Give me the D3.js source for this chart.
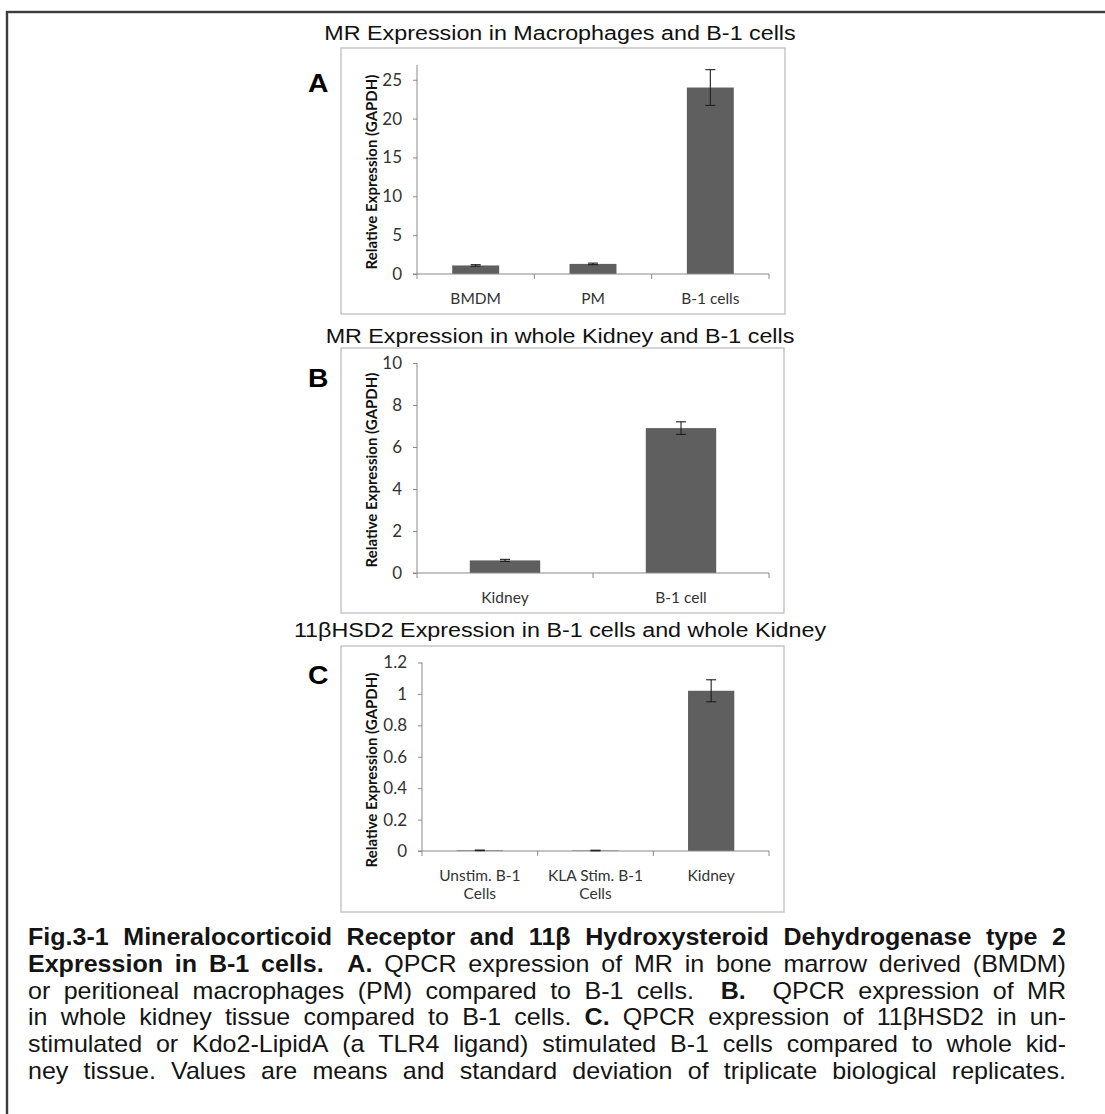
<!DOCTYPE html>
<html>
<head>
<meta charset="utf-8">
<script src="https://cdn.jsdelivr.net/npm/d3@7"></script>
<style>
  html, body { margin: 0; padding: 0; background: #fff; }
  svg { display: block; }
</style>
</head>
<body>
<svg id="fig" width="1105" height="1114"></svg>
<script>
// ---- Panel A: MR in macrophages vs B-1 cells ----
const catsA = ["BMDM", "PM", "B-1 cells"];
const meanA = [1.1, 1.3, 24.0];
const sdA = [0.1, 0.1, 2.3];
const ticksA = [0, 5, 10, 15, 20, 25];

// ---- Panel B: MR in kidney vs B-1 cells ----
const catsB = ["Kidney", "B-1 cell"];
const meanB = [0.6, 6.9];
const sdB = [0.05, 0.3];
const ticksB = [0, 2, 4, 6, 8, 10];

// ---- Panel C: 11βHSD2 in B-1 cells vs kidney ----
const catsC = ["Unstim. B-1\nCells", "KLA Stim. B-1\nCells", "Kidney"];
const meanC = [0.004, 0.003, 1.02];
const sdC = [0.002, 0.002, 0.07];
const ticksC = [0, 0.2, 0.4, 0.6, 0.8, 1, 1.2];

const titles = [
  "MR Expression in Macrophages and B-1 cells",
  "MR Expression in whole Kidney and B-1 cells",
  "11\u03b2HSD2 Expression in B-1 cells and whole Kidney"
];
const yAxisTitle = "Relative Expression (GAPDH)";

// Caption lines, as runs of [text, bold]
const captionLines = [
  [["Fig.3-1 Mineralocorticoid Receptor and 11\u03b2 Hydroxysteroid Dehydrogenase type 2", true]],
  [["Expression in B-1 cells.", true], ["  ", false], ["A.", true], [" QPCR expression of MR in bone marrow derived (BMDM)", false]],
  [["or peritioneal macrophages (PM) compared to B-1 cells.  ", false], ["B.", true], ["  QPCR expression of MR", false]],
  [["in whole kidney tissue compared to B-1 cells. ", false], ["C.", true], [" QPCR expression of 11\u03b2HSD2 in un-", false]],
  [["stimulated or Kdo2-LipidA (a TLR4 ligand) stimulated B-1 cells compared to whole kid-", false]],
  [["ney tissue. Values are means and standard deviation of triplicate biological replicates.", false]]
];

// ---- layout ----
const chartFont = "Lato, 'Open Sans', sans-serif";
const capFont = "'Liberation Sans', Arial, sans-serif";
const barFill = "#5f5f5f";
const axisColor = "#8a8a8a";
const wide = 1.11;   // the figure's type is set slightly extended

const panels = [
  { letter: "A", title: titles[0], cats: catsA, mean: meanA, sd: sdA, ticks: ticksA, ymax: 26.9,
    box: [341, 48, 785, 314], x0: 417, x1: 769, yBase: 274, yTop: 65,
    titleY: 40, letterY: 91.5, yTitleMid: 172 },
  { letter: "B", title: titles[1], cats: catsB, mean: meanB, sd: sdB, ticks: ticksB, ymax: 10,
    box: [341, 348, 784, 613], x0: 417, x1: 769, yBase: 573, yTop: 363,
    titleY: 343, letterY: 387, yTitleMid: 470 },
  { letter: "C", title: titles[2], cats: catsC, mean: meanC, sd: sdC, ticks: ticksC, ymax: 1.2,
    box: [341, 646, 784, 912], x0: 422, x1: 769, yBase: 851, yTop: 662.5,
    titleY: 637, letterY: 683.5, yTitleMid: 770 }
];

const svg = d3.select("#fig");

// Outer frame
svg.append("rect")
  .attr("x", 7).attr("y", 12)
  .attr("width", 1130).attr("height", 1130)
  .attr("fill", "none").attr("stroke", "#3c3c3c").attr("stroke-width", 2.4);

const fmt = d3.format("~g");

panels.forEach(p => {
  const g = svg.append("g");

  // Panel heading
  g.append("text")
    .attr("transform", `translate(560,${p.titleY}) scale(${wide},1)`)
    .attr("text-anchor", "middle")
    .style("font-family", capFont).style("font-size", "21px").attr("fill", "#111")
    .text(p.title);

  // Chart area border
  g.append("rect")
    .attr("x", p.box[0]).attr("y", p.box[1])
    .attr("width", p.box[2] - p.box[0]).attr("height", p.box[3] - p.box[1])
    .attr("fill", "#fff").attr("stroke", "#bdbdbd").attr("stroke-width", 1.3);

  // Panel letter
  g.append("text")
    .attr("transform", `translate(308,${p.letterY}) scale(${wide},1)`)
    .style("font-family", capFont).style("font-size", "25.5px").style("font-weight", "bold")
    .attr("fill", "#000")
    .text(p.letter);

  const x = d3.scaleBand()
    .domain(p.cats)
    .range([p.x0, p.x1])
    .paddingInner(0.6)
    .paddingOuter(0.3);
  const y = d3.scaleLinear().domain([0, p.ymax]).range([p.yBase, p.yTop]);

  // Y axis
  const yAxis = d3.axisLeft(y).tickValues(p.ticks).tickFormat(fmt).tickSize(4).tickPadding(11);
  const ya = g.append("g").attr("transform", `translate(${p.x0},0)`).call(yAxis);
  ya.select(".domain").attr("stroke", axisColor).attr("d", `M-4,${y(0)}H0V${p.yTop}`);
  ya.selectAll(".tick line").attr("stroke", axisColor);
  ya.selectAll(".tick text")
    .style("font-family", chartFont).style("font-size", "17px").attr("fill", "#333");

  // Y axis title
  g.append("text")
    .attr("transform", `translate(371,${p.yTitleMid}) rotate(-90)`)
    .attr("text-anchor", "middle").attr("dominant-baseline", "central")
    .style("font-family", chartFont).style("font-size", "15px").style("font-weight", "bold")
    .attr("fill", "#111")
    .text(yAxisTitle);

  // Bars
  g.selectAll("rect.bar").data(p.cats).join("rect")
    .attr("class", "bar")
    .attr("x", d => x(d))
    .attr("width", x.bandwidth())
    .attr("y", (d, i) => y(p.mean[i]))
    .attr("height", (d, i) => y(0) - y(p.mean[i]))
    .attr("fill", barFill);

  // X axis line + ticks at category boundaries
  const step = x.step();
  const [r0, r1] = x.range();
  g.append("line")
    .attr("x1", r0).attr("x2", r1).attr("y1", y(0)).attr("y2", y(0))
    .attr("stroke", axisColor).attr("stroke-width", 1.2);
  g.selectAll("line.xtick").data(d3.range(p.cats.length + 1)).join("line")
    .attr("class", "xtick")
    .attr("x1", i => r0 + i * step).attr("x2", i => r0 + i * step)
    .attr("y1", y(0)).attr("y2", y(0) + 5)
    .attr("stroke", axisColor);

  // Error bars (mean ± SD)
  const cap = 5;
  const eb = g.selectAll("g.err").data(p.cats).join("g").attr("class", "err")
    .attr("stroke", "#1e1e1e").attr("stroke-width", 1.1);
  eb.append("line")
    .attr("x1", d => x(d) + x.bandwidth() / 2).attr("x2", d => x(d) + x.bandwidth() / 2)
    .attr("y1", (d, i) => y(p.mean[i] + p.sd[i])).attr("y2", (d, i) => y(p.mean[i] - p.sd[i]));
  eb.append("line")
    .attr("x1", d => x(d) + x.bandwidth() / 2 - cap).attr("x2", d => x(d) + x.bandwidth() / 2 + cap)
    .attr("y1", (d, i) => y(p.mean[i] + p.sd[i])).attr("y2", (d, i) => y(p.mean[i] + p.sd[i]));
  eb.append("line")
    .attr("x1", d => x(d) + x.bandwidth() / 2 - cap).attr("x2", d => x(d) + x.bandwidth() / 2 + cap)
    .attr("y1", (d, i) => y(p.mean[i] - p.sd[i])).attr("y2", (d, i) => y(p.mean[i] - p.sd[i]));

  // Category labels (may wrap onto two lines)
  const lab = g.selectAll("text.cat").data(p.cats).join("text")
    .attr("class", "cat")
    .attr("text-anchor", "middle")
    .style("font-family", chartFont).style("font-size", "15.5px").attr("fill", "#333");
  lab.each(function (d) {
    const cx = x(d) + x.bandwidth() / 2;
    d.split("\n").forEach((line, k) => {
      d3.select(this).append("tspan")
        .attr("x", cx).attr("y", y(0) + 29.5 + k * 18.6)
        .text(line);
    });
  });
});

// ---- Caption, fully justified between two margins ----
const capX0 = 28, capX1 = 1066, capY0 = 945, capLH = 26.8, capSize = 23.2, capWide = 1.08;
const capG = svg.append("g")
  .style("font-family", capFont).style("font-size", capSize + "px").attr("fill", "#141414");

captionLines.forEach((runs, li) => {
  // Break runs into words, remembering how many spaces precede each word
  const words = [];
  let pendingGap = 0;
  runs.forEach(([txt, bold]) => {
    txt.split(" ").forEach((w, k) => {
      if (k > 0) pendingGap += 1;
      if (w.length) {
        words.push({ w, bold, gap: words.length ? pendingGap : 0 });
        pendingGap = 0;
      }
    });
  });
  const yPos = capY0 + li * capLH;
  const nodes = words.map(o => capG.append("text")
    .style("font-weight", o.bold ? "bold" : "normal")
    .text(o.w));
  const widths = nodes.map(n => n.node().getComputedTextLength() * capWide);
  const total = d3.sum(widths);
  const gapUnits = d3.sum(words, o => o.gap);
  const unit = gapUnits ? (capX1 - capX0 - total) / gapUnits : 0;
  let cx = capX0;
  nodes.forEach((n, i) => {
    cx += words[i].gap * unit;
    n.attr("transform", `translate(${cx},${yPos}) scale(${capWide},1)`);
    cx += widths[i];
  });
});
</script>
</body>
</html>
